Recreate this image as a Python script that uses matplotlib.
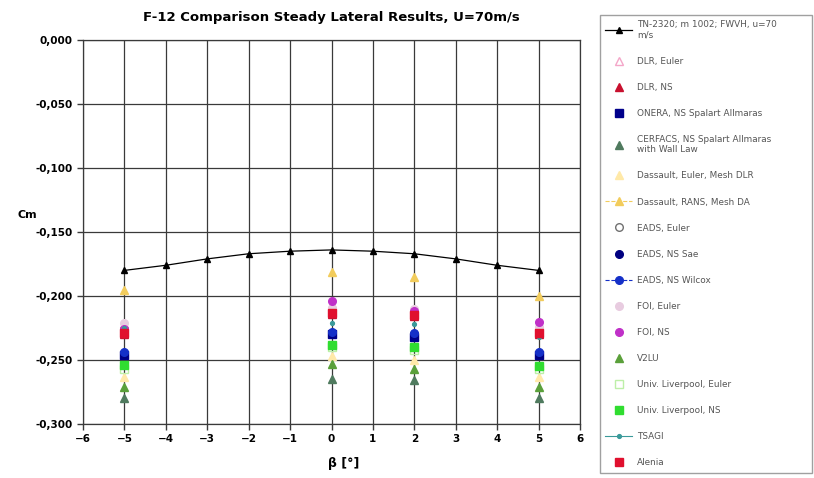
import numpy as np
import matplotlib
matplotlib.use('Agg')
import matplotlib.pyplot as plt
from matplotlib.ticker import FuncFormatter, MultipleLocator

# ------------------------------------------------------------
#  data
# ------------------------------------------------------------
beta_tn = [-5, -4, -3, -2, -1, 0, 1, 2, 3, 4, 5]
cm_tn = [-0.180, -0.176, -0.171, -0.167, -0.165, -0.164, -0.165, -0.167, -0.171, -0.176, -0.180]

beta_cfd = [-5, 0, 2, 5]
dlr_euler = [-0.222, -0.206, -0.210, -0.222]
dlr_ns = [-0.230, -0.214, -0.216, -0.230]
onera_ns = [-0.246, -0.230, -0.232, -0.246]
cerfacs_ns = [-0.280, -0.265, -0.266, -0.280]
dassault_euler = [-0.263, -0.247, -0.250, -0.263]
dassault_rans = [-0.195, -0.181, -0.185, -0.200]
eads_euler = [-0.226, -0.211, -0.212, -0.227]
eads_sae = [-0.245, -0.229, -0.230, -0.245]
eads_wilcox = [-0.244, -0.228, -0.229, -0.244]
foi_euler = [-0.221, -0.209, -0.210, -0.224]
foi_ns = [-0.226, -0.204, -0.212, -0.220]
v2lu = [-0.271, -0.253, -0.257, -0.271]
liv_euler = [-0.257, -0.240, -0.242, -0.257]
liv_ns = [-0.254, -0.238, -0.240, -0.255]
tsagi = [-0.225, -0.221, -0.222, -0.232]
alenia = [-0.229, -0.213, -0.215, -0.229]

title = 'F-12 Comparison Steady Lateral Results, U=70m/s'

# (label, values, marker, face colour, edge colour, legend line style)
series = [
    ('DLR, Euler', dlr_euler, '^', 'none', '#F4A6C8', None),
    ('DLR, NS', dlr_ns, '^', '#C8102E', '#C8102E', None),
    ('ONERA, NS Spalart Allmaras', onera_ns, 's', '#00008B', '#00008B', None),
    ('CERFACS, NS Spalart Allmaras\nwith Wall Law', cerfacs_ns, '^', '#4F7A5E', '#4F7A5E', None),
    ('Dassault, Euler, Mesh DLR', dassault_euler, '^', '#FFE9A8', '#FFE9A8', None),
    ('Dassault, RANS, Mesh DA', dassault_rans, '^', '#F2CC5C', '#F2CC5C', '--'),
    ('EADS, Euler', eads_euler, 'o', 'none', '#707070', None),
    ('EADS, NS Sae', eads_sae, 'o', '#000080', '#000080', None),
    ('EADS, NS Wilcox', eads_wilcox, 'o', '#1530C8', '#1530C8', '--'),
    ('FOI, Euler', foi_euler, 'o', '#E8CCE0', '#E8CCE0', None),
    ('FOI, NS', foi_ns, 'o', '#C030C8', '#C030C8', None),
    ('V2LU', v2lu, '^', '#5AA03A', '#5AA03A', None),
    ('Univ. Liverpool, Euler', liv_euler, 's', 'none', '#BDEFA8', None),
    ('Univ. Liverpool, NS', liv_ns, 's', '#30DD30', '#30DD30', None),
    ('TSAGI', tsagi, '.', '#3A9A9A', '#3A9A9A', '-'),
    ('Alenia', alenia, 's', '#E0102E', '#E0102E', None),
]

# ------------------------------------------------------------
#  figure
# ------------------------------------------------------------
fig = plt.figure(figsize=(8.14, 4.78), dpi=100)
ax = fig.add_axes([83 / 814, 54 / 478, 497 / 814, 384 / 478])

ax.plot(beta_tn, cm_tn, color='black', linewidth=0.9, marker='^',
        markersize=5, label='TN-2320; m 1002; FWVH, u=70\nm/s')

for label, vals, mk, fc, ec, ls in series:
    ax.plot(beta_cfd, vals, linestyle='none', marker=mk, markersize=5.5,
            markerfacecolor=fc, markeredgecolor=ec, label=label)

ax.set_xlim(-6, 6)
ax.set_ylim(-0.3, 0.0)
ax.xaxis.set_major_locator(MultipleLocator(1))
ax.yaxis.set_major_locator(MultipleLocator(0.05))
ax.yaxis.set_major_formatter(FuncFormatter(lambda v, p: f'{v:.3f}'.replace('.', ',')))
ax.grid(True, color='#3a3a3a', linewidth=0.9)
ax.set_axisbelow(True)
for s in ax.spines.values():
    s.set_color('#3a3a3a')
    s.set_linewidth(0.9)
ax.tick_params(length=4, color='#3a3a3a', labelsize=7.5, width=1)
for t in ax.get_xticklabels() + ax.get_yticklabels():
    t.set_fontweight('bold')

ax.set_title(title, fontsize=9.5, fontweight='bold', pad=14)
ax.set_xlabel('β [°]', fontsize=9, fontweight='bold', loc='left', labelpad=4)
ax.xaxis.set_label_coords(0.493, -0.085)
ax.set_ylabel('Cm', fontsize=8, fontweight='bold', rotation=0, va='center', ha='center')
ax.yaxis.set_label_coords(-0.113, 0.545)

leg = fig.legend(loc='upper left', bbox_to_anchor=(600 / 814, 1 - 15 / 478, 212 / 814, 0.0),
                 mode='expand', fontsize=6.4, labelspacing=1.92, frameon=True,
                 fancybox=False, edgecolor='#888888', handlelength=3.0,
                 borderaxespad=0, borderpad=0.6, handletextpad=0.6)
leg.get_frame().set_linewidth(1.0)
for txt in leg.get_texts():
    txt.set_color('#555555')
for (label, vals, mk, fc, ec, ls), h in zip(series, leg.get_lines()[1:]):
    if ls is not None:
        h.set_linestyle(ls)
        h.set_linewidth(0.8)
        h.set_color(ec)

plt.savefig('out.png', dpi=100)
